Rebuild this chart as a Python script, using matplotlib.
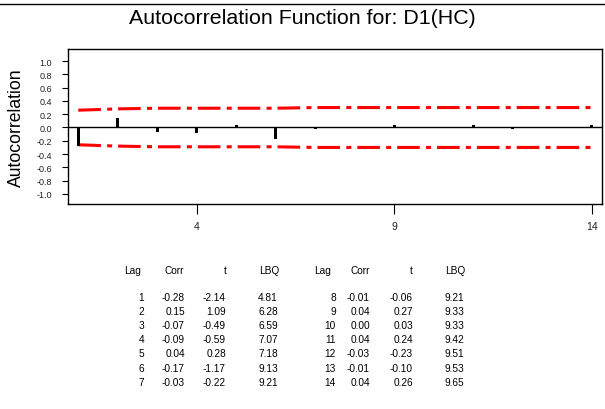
import numpy as np
import matplotlib
matplotlib.use("Agg")
import matplotlib.pyplot as plt
from matplotlib.lines import Line2D

plt.rcParams['font.family'] = ['Liberation Sans', 'DejaVu Sans']
plt.rcParams['lines.scale_dashes'] = False

lags = [1, 2, 3, 4, 5, 6, 7, 8, 9, 10, 11, 12, 13, 14]
corr = [-0.28, 0.15, -0.07, -0.09, 0.04, -0.17, -0.03,
        -0.01, 0.04, 0.00, 0.04, -0.03, -0.01, 0.04]
tval = [-2.14, 1.09, -0.49, -0.59, 0.28, -1.17, -0.22,
        -0.06, 0.27, 0.03, 0.24, -0.23, -0.10, 0.26]
lbq = [4.81, 6.28, 6.59, 7.07, 7.18, 9.13, 9.21,
       9.21, 9.33, 9.33, 9.42, 9.51, 9.53, 9.65]
limit = [0.26, 0.28, 0.29, 0.29, 0.29, 0.29, 0.30,
         0.30, 0.30, 0.30, 0.30, 0.30, 0.30, 0.30]
yticks = [-1.0, -0.8, -0.6, -0.4, -0.2, 0.0, 0.2, 0.4, 0.6, 0.8, 1.0]
xticks = [4, 9, 14]

W, H = 605, 410
fig = plt.figure(figsize=(W / 100, H / 100), dpi=100)
ax = fig.add_axes([68 / W, 1 - 204.7 / H, 534 / W, 154.4 / H])

# bars + zero line
ax.bar(lags, corr, width=0.08, color='black', zorder=3)
ax.axhline(0, color='black', lw=1, zorder=2)
# confidence limits
dash = (16.3, 4.5, 3.6, 4.3)
up = np.array(limit)
ax.plot(lags, up, color='red', lw=2.2, dashes=dash)
ax.plot(lags, -up, color='red', lw=2.2, dashes=dash)

ax.set_xlim(0.74, 14.26)
ax.set_ylim(-1.146, 1.176)
ax.set_yticks(yticks)
ax.set_yticklabels(['%.1f' % v for v in yticks])
ax.set_xticks(xticks)
ax.tick_params(axis='y', labelsize=6.5, length=4.3, pad=7, labelcolor='#222222')
ax.tick_params(axis='x', labelsize=7.5, length=7, pad=5.5, labelcolor='#222222')
for s in ax.spines.values():
    s.set_linewidth(1)

fig.text(0.5, 1 - 19 / H, 'Autocorrelation Function for: D1(HC)',
         ha='center', va='center', fontsize=15.4)
fig.text(16 / W, 1 - 127.5 / H, 'Autocorrelation', rotation=90,
         ha='center', va='center', fontsize=12.7)
fig.add_artist(Line2D([0, 1], [1 - 5 / H, 1 - 5 / H], color='black', lw=1))

# table
tfs = 7.3
hdr_y = 271
row_y0 = 297.7
row_dy = 14.2
groups = [
    # (rows, header right edges, value right edges)
    (range(0, 7), [141, 184, 227, 279], [144, 185, 226, 278]),
    (range(7, 14), [331, 370, 413, 465], [336, 370, 413, 464]),
]
headers = ['Lag', 'Corr', 't', 'LBQ']
for rows, hx, vx in groups:
    for h, x in zip(headers, hx):
        fig.text(x / W, 1 - hdr_y / H, h, ha='right', va='center', fontsize=tfs)
    for k, i in enumerate(rows):
        y = 1 - (row_y0 + k * row_dy) / H
        vals = ['%d' % lags[i], '%.2f' % corr[i], '%.2f' % tval[i], '%.2f' % lbq[i]]
        for v, x in zip(vals, vx):
            fig.text(x / W, y, v, ha='right', va='center', fontsize=tfs)

fig.savefig('out.png', dpi=100)
